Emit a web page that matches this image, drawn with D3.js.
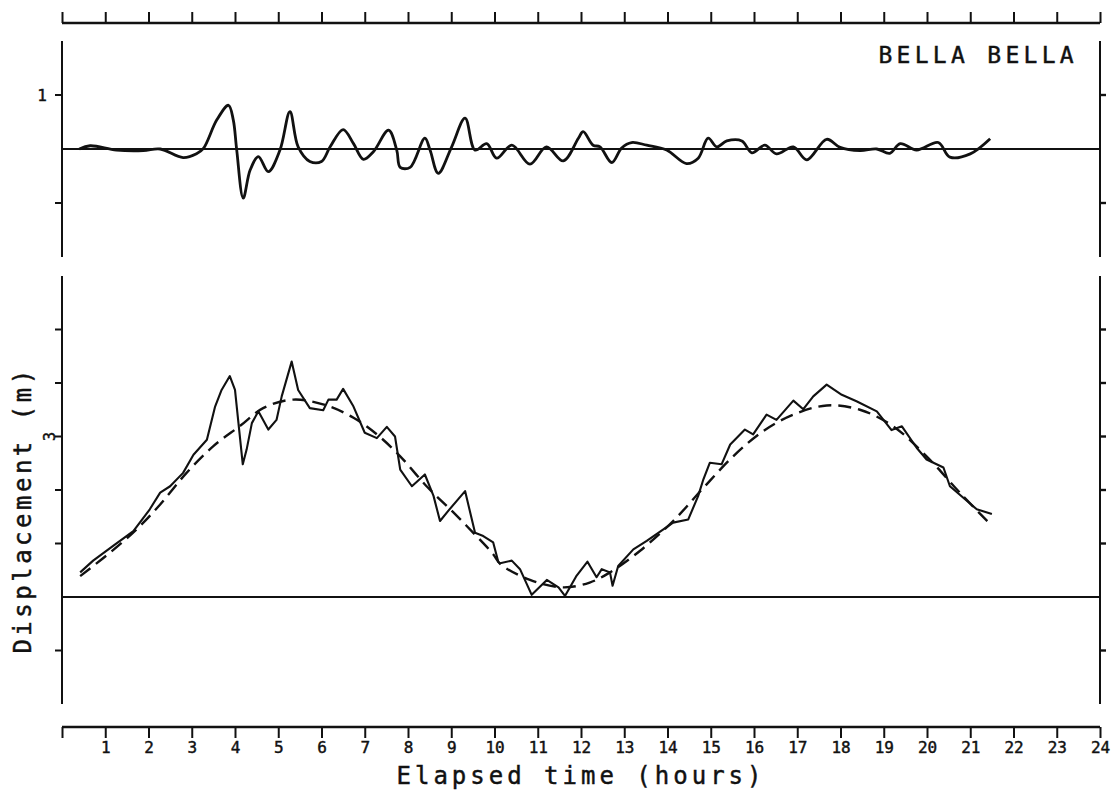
<!DOCTYPE html>
<html><head><meta charset="utf-8">
<script src="https://cdn.jsdelivr.net/npm/d3@7"></script>
<style>
html,body{margin:0;padding:0;background:#fff;}
svg{display:block;}
text{font-family:"DejaVu Sans Mono","Liberation Mono",monospace;fill:#111;stroke:#111;stroke-width:0.45px;}
</style></head>
<body>
<svg id="chart" width="1120" height="795"></svg>
<script>
// ---- data ----
const stationName = "BELLA BELLA";
const xTitle = "Elapsed time (hours)";
const yTitle = "Displacement (m)";
const hourTicks = d3.range(0, 25);
const hourLabels = d3.range(1, 25);
const topYTicks = [-1, 1];
const topYLabels = ["", "1"];
const bottomYTicks = [-1, 1, 2, 3, 4, 5];
const bottomYLabelValue = 3;

// residual (top panel)
const residualT = [0.40,0.65,1.26,1.88,2.27,2.80,3.11,3.27,3.58,3.85,3.96,4.04,4.19,4.35,4.54,4.77,5.04,5.27,5.46,5.73,6.00,6.20,6.50,6.74,6.97,7.20,7.55,7.74,7.82,8.05,8.39,8.51,8.70,9.01,9.32,9.55,9.82,10.05,10.40,10.82,11.20,11.59,11.94,12.05,12.28,12.44,12.71,12.94,13.17,13.52,13.98,14.44,14.71,14.94,15.14,15.37,15.72,15.95,16.25,16.52,16.91,17.22,17.68,17.99,18.45,18.84,19.14,19.38,19.76,20.26,20.53,21.00,21.46];
const residualV = [0.00,0.06,-0.02,-0.03,0.00,-0.16,-0.09,0.01,0.54,0.81,0.54,-0.02,-0.91,-0.39,-0.14,-0.42,-0.02,0.69,0.04,-0.23,-0.23,0.04,0.36,0.10,-0.19,-0.05,0.35,-0.02,-0.34,-0.34,0.20,-0.02,-0.45,0.04,0.57,-0.02,0.10,-0.17,0.07,-0.28,0.04,-0.22,0.20,0.32,0.07,0.04,-0.25,0.02,0.12,0.07,-0.02,-0.27,-0.17,0.20,0.04,0.15,0.15,-0.07,0.07,-0.09,0.04,-0.20,0.18,0.03,-0.03,0.00,-0.08,0.10,-0.02,0.12,-0.15,-0.09,0.19];

// observed (bottom panel, solid)
const observedT = [0.42,0.72,1.19,1.65,2.03,2.27,2.50,2.80,3.04,3.35,3.54,3.69,3.88,4.00,4.08,4.18,4.27,4.39,4.54,4.77,4.96,5.08,5.31,5.46,5.73,6.04,6.16,6.35,6.50,6.74,7.00,7.28,7.51,7.70,7.82,8.09,8.39,8.59,8.74,8.93,9.32,9.55,9.74,9.97,10.09,10.13,10.40,10.59,10.86,11.21,11.48,11.63,11.90,12.15,12.36,12.48,12.67,12.73,12.86,13.21,13.52,14.13,14.48,14.71,14.83,14.98,15.25,15.45,15.79,15.98,16.29,16.52,16.91,17.14,17.37,17.68,18.03,18.37,18.84,19.18,19.42,19.76,19.99,20.38,20.53,21.15,21.50];
const observedV = [0.46,0.68,0.96,1.23,1.64,1.95,2.07,2.32,2.66,2.94,3.56,3.87,4.13,3.87,3.25,2.48,2.76,3.25,3.47,3.13,3.31,3.75,4.40,3.87,3.53,3.49,3.69,3.69,3.89,3.56,3.07,2.97,3.18,3.00,2.38,2.07,2.29,1.89,1.42,1.61,1.98,1.20,1.14,1.02,0.65,0.63,0.68,0.52,0.04,0.32,0.18,0.02,0.40,0.66,0.37,0.52,0.46,0.21,0.58,0.89,1.05,1.39,1.45,1.89,2.20,2.51,2.48,2.85,3.13,3.04,3.41,3.31,3.67,3.51,3.75,3.97,3.78,3.66,3.47,3.12,3.19,2.79,2.57,2.42,2.07,1.64,1.55];

// predicted tide (bottom panel, dashed)
const predictedT = [0.42,1.11,1.73,2.27,2.88,3.50,4.12,4.65,5.35,6.12,6.74,7.28,7.82,8.43,9.05,9.51,9.97,10.13,10.82,11.59,12.20,12.67,13.36,14.13,14.83,15.52,16.21,16.91,17.68,18.45,19.22,19.99,20.76,21.50];
const predictedV = [0.39,0.83,1.27,1.73,2.32,2.82,3.20,3.53,3.69,3.58,3.35,3.04,2.63,2.07,1.58,1.20,0.80,0.62,0.32,0.18,0.27,0.46,0.86,1.42,2.04,2.63,3.10,3.41,3.58,3.50,3.19,2.63,1.95,1.33];

// ---- drawing ----
const svg = d3.select("#chart");
const ink = "#111";
const x = d3.scaleLinear().domain([0, 24]).range([62, 1100]);
const yTop = d3.scaleLinear().domain([-2, 2]).range([257, 41]);
const yBot = d3.scaleLinear().domain([-2, 6]).range([704, 276]);

function frameAxes(y, ticks){
  const g = svg.append("g");
  const [y0, y1] = y.range();
  g.append("line").attr("x1", x(0)).attr("x2", x(0)).attr("y1", y0).attr("y2", y1)
    .attr("stroke", ink).attr("stroke-width", 2);
  g.append("line").attr("x1", x(24)).attr("x2", x(24)).attr("y1", y0).attr("y2", y1)
    .attr("stroke", ink).attr("stroke-width", 2);
  g.selectAll(".lt").data(ticks).join("line")
    .attr("x1", x(0) - 7).attr("x2", x(0)).attr("y1", d => y(d)).attr("y2", d => y(d))
    .attr("stroke", ink).attr("stroke-width", 2);
  g.selectAll(".rt").data(ticks).join("line")
    .attr("x1", x(24)).attr("x2", x(24) + 6).attr("y1", d => y(d)).attr("y2", d => y(d))
    .attr("stroke", ink).attr("stroke-width", 2.4);
  g.append("line").attr("x1", x(0)).attr("x2", x(24)).attr("y1", y(0)).attr("y2", y(0))
    .attr("stroke", ink).attr("stroke-width", 2.2);
}

// top time axis (no labels, ticks up)
const topAxis = d3.axisTop(x).tickValues(hourTicks).tickSize(11).tickFormat("");
const gTopAxis = svg.append("g").attr("transform", "translate(0,23)").call(topAxis);
gTopAxis.select(".domain").attr("stroke", ink).attr("stroke-width", 2.4).attr("d", `M${x(0)},0H${x(24)}`);
gTopAxis.selectAll(".tick line").attr("stroke", ink).attr("stroke-width", 2);

// bottom time axis (ticks down, labels)
const botAxis = d3.axisBottom(x).tickValues(hourTicks).tickSize(11)
  .tickFormat(d => hourLabels.includes(d) ? String(d) : "");
const gBotAxis = svg.append("g").attr("transform", "translate(0,727)").call(botAxis);
gBotAxis.select(".domain").attr("stroke", ink).attr("stroke-width", 2.4).attr("d", `M${x(0)},0H${x(24)}`);
gBotAxis.selectAll(".tick line").attr("stroke", ink).attr("stroke-width", 2);
gBotAxis.selectAll(".tick text").attr("y", 15).attr("dy", "0.71em")
  .style("font-family", '"DejaVu Sans Mono", monospace').style("font-size", "16px")
  .attr("fill", ink).attr("stroke", ink).attr("stroke-width", 0.5);

// panels
frameAxes(yTop, topYTicks);
frameAxes(yBot, bottomYTicks);

// top panel label
svg.append("text").attr("x", 42).attr("y", yTop(1)).attr("dy", "0.36em")
  .attr("text-anchor", "middle").style("font-size", "16px").text(topYLabels[1]);
// bottom panel label "3"
svg.append("text")
  .attr("transform", `translate(50,${yBot(bottomYLabelValue)}) rotate(-90)`)
  .attr("text-anchor", "middle").attr("dy", "0.36em").style("font-size", "15px")
  .text(String(bottomYLabelValue));

// station name
svg.append("text").attr("x", 1078).attr("y", 63).attr("text-anchor", "end")
  .style("font-size", "23px").style("letter-spacing", "4.3px").text(stationName);

// titles
svg.append("text").attr("x", 581).attr("y", 784).attr("text-anchor", "middle")
  .style("font-size", "24px").style("letter-spacing", "4px").text(xTitle);
svg.append("text").attr("transform", "translate(31,510) rotate(-90)")
  .attr("text-anchor", "middle").style("font-size", "24px").style("letter-spacing", "3.5px")
  .text(yTitle);

// series
const residual = residualT.map((t, i) => [t, residualV[i]]);
const observed = observedT.map((t, i) => [t, observedV[i]]);
const predicted = predictedT.map((t, i) => [t, predictedV[i]]);

svg.append("path").datum(residual)
  .attr("d", d3.line().x(d => x(d[0])).y(d => yTop(d[1])).curve(d3.curveCatmullRom.alpha(0.5)))
  .attr("fill", "none").attr("stroke", ink).attr("stroke-width", 2.8).attr("stroke-linejoin", "round");

svg.append("path").datum(predicted)
  .attr("d", d3.line().x(d => x(d[0])).y(d => yBot(d[1])).curve(d3.curveCatmullRom.alpha(0.5)))
  .attr("fill", "none").attr("stroke", ink).attr("stroke-width", 2.4)
  .attr("stroke-dasharray", "13,7");

svg.append("path").datum(observed)
  .attr("d", d3.line().x(d => x(d[0])).y(d => yBot(d[1])))
  .attr("fill", "none").attr("stroke", ink).attr("stroke-width", 2.1).attr("stroke-linejoin", "round");
</script>
</body></html>
